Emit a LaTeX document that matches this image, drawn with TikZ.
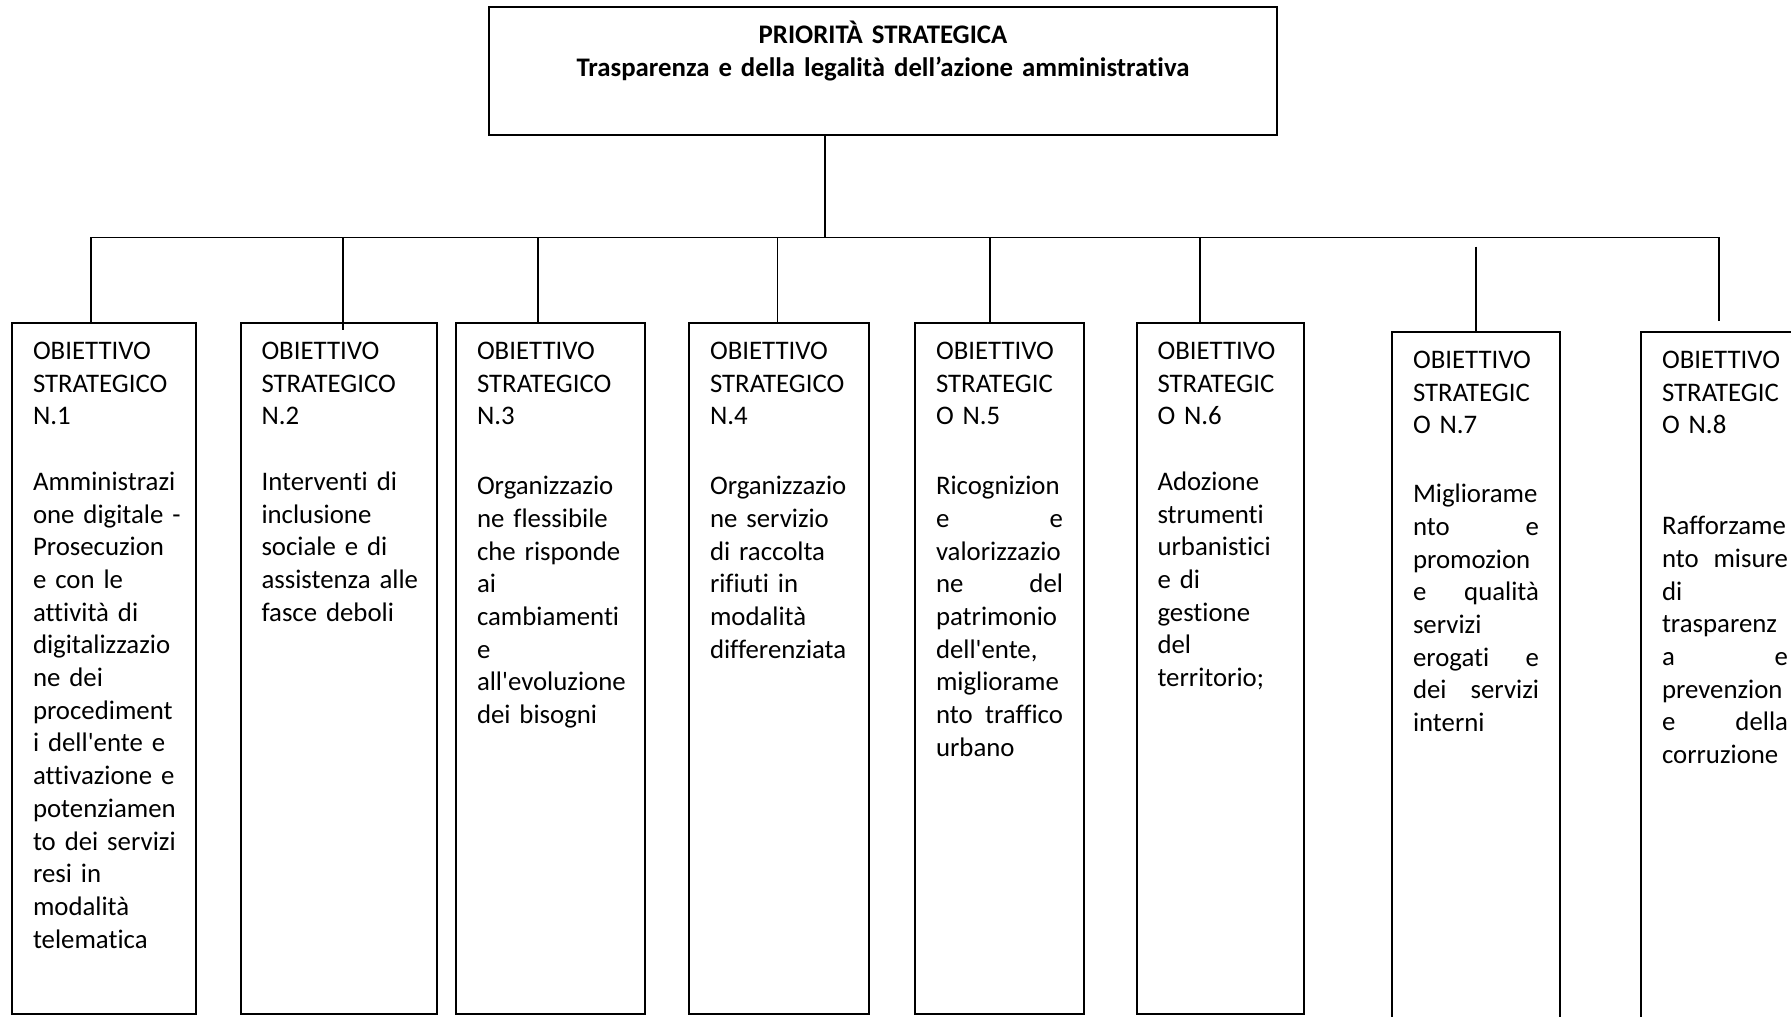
\documentclass[tikz,border=0pt]{standalone}
\usepackage{fontspec}
\setmainfont{Carlito}[Ligatures={TeX,NoCommon}]
\setlength{\parindent}{0pt}

\begin{document}
\begin{tikzpicture}[x=1pt,y=-1pt,
    box/.style={draw,line width=2pt,anchor=north west,inner xsep=21pt,inner ysep=0pt,
      align=left,text height=36.5pt,text depth=654.5pt,
      font=\fontsize{26.8pt}{32.7pt}\selectfont},
    conn/.style={line width=1.7pt}]
   \useasboundingbox (0,0) rectangle (1791,1017);
   \clip (0,0) rectangle (1791,1017);

   \node[box,align=center,text width=746pt,text depth=91.5pt] (0) at (488,6)
     {\bfseries PRIORITÀ STRATEGICA\\Trasparenza e della legalità dell’azione amministrativa};

   \node[box,text width=141.5pt] (1) at (11,322) {OBIETTIVO\\STRATEGICO\\N.1\\[32.7pt]
     Amministrazi\\\mbox{one digitale -}\\Prosecuzion\\e~con~le\\attività~di\\digitalizzazio\\ne~dei\\procediment\\
     i~dell\textquotesingle ente~e\\attivazione~e\\potenziamen\\to~dei~servizi\\resi~in\\modalità\\telematica};
   \node[box,text width=154pt] (2) at (239.5,322) {OBIETTIVO\\STRATEGICO\\N.2\\[32.7pt]
     Interventi~di\\inclusione\\sociale~e~di\\assistenza~alle\\fasce~deboli};
   \node[box,text width=147pt] (3) at (455,322) {OBIETTIVO\\STRATEGICO\\N.3\\[37pt]
     Organizzazio\\ne~flessibile\\che~risponde\\ai\\cambiamenti\\e\\all\textquotesingle evoluzione\\dei~bisogni};
   \node[box,text width=138pt] (4) at (688,322) {OBIETTIVO\\STRATEGICO\\N.4\\[37pt]
     Organizzazio\\ne~servizio\\di~raccolta\\rifiuti~in\\modalità\\differenziata};
   \node[box,text width=127pt] (5) at (914,322) {OBIETTIVO\\STRATEGIC\\O~N.5\\[37pt]
     Ricognizion\\e\hfill e\\valorizzazio\\ne\hfill del\\patrimonio\\dell\textquotesingle ente,\\migliorame\\nto\hfill traffico\\urbano};
   \node[box,text width=125.5pt] (6) at (1135.5,322) {OBIETTIVO\\STRATEGIC\\O~N.6\\[32.7pt]
     Adozione\\strumenti\\urbanistici\\e~di\\gestione\\del\\territorio;};
   \node[box,text width=126pt,text depth=700pt] (7) at (1391,331) {OBIETTIVO\\STRATEGIC\\O~N.7\\[36pt]
     Migliorame\\nto\hfill e\\promozion\\e\hfill qualità\\servizi\\erogati\hfill e\\dei\hfill servizi\\interni};
   \node[box,text width=126pt,text depth=700pt] (8) at (1640,331) {OBIETTIVO\\STRATEGIC\\O~N.8\\[68pt]
     Rafforzame\\nto\hfill misure\\di\\trasparenz\\a\hfill e\\prevenzion\\e\hfill della\\corruzione};

   % bus and drops
   \coordinate (j0) at (825,237.6);
   \coordinate (j1) at (90.7,237.6);
   \coordinate (j2) at (343.3,237.6);
   \coordinate (j3) at (538.3,237.6);
   \coordinate (j4) at (777.5,237.6);
   \coordinate (j5) at (990,237.6);
   \coordinate (j6) at (1200,237.6);
   \coordinate (j7) at (1476,246.7);
   \coordinate (j8) at (1719,237.6);

   \draw[conn] (0.south -| j0) -- (j0);
   \draw[conn,shorten >=10pt] (j1 |- 1.north) -- (j1) -- (j8) -- (j8 |- 8.north);
   \foreach \n/\s in {2/-8,3/0,4/0,5/0,6/0,7/0}
     \draw[conn,shorten >=\s pt] (j\n) -- (j\n |- \n.north);
\end{tikzpicture}
\end{document}
